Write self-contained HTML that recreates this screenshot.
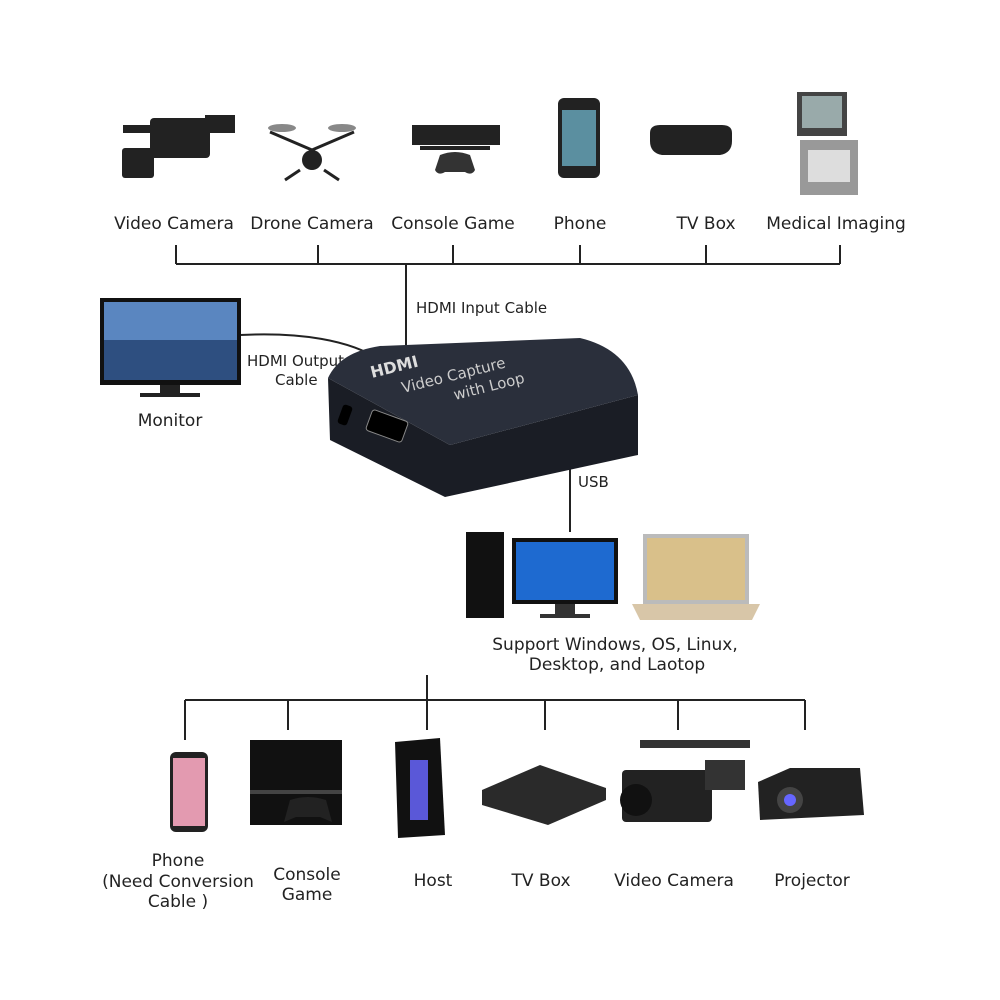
<!DOCTYPE html>
<html><head><meta charset="utf-8"><style>
html,body{margin:0;padding:0;background:#fff}
svg{display:block}
text{font-family:"DejaVu Sans","Liberation Sans",sans-serif;fill:#222}
</style></head><body>
<svg width="1000" height="1000" viewBox="0 0 1000 1000" xmlns="http://www.w3.org/2000/svg">
<g stroke="#222" stroke-width="2" fill="none">
<path d="M176 264H840M176 245V264M318 245V264M453 245V264M580 245V264M706 245V264M840 245V264M406 264V345"/>
<path d="M240 335C300 332 350 340 380 360"/>
<path d="M570 455V532"/>
<path d="M185 700H805M185 700V740M288 700V730M427 675V730M545 700V730M678 700V730M805 700V730"/>
</g>
<g font-size="17">
<text x="174" y="229" text-anchor="middle">Video Camera</text>
<text x="312" y="229" text-anchor="middle">Drone Camera</text>
<text x="453" y="229" text-anchor="middle">Console Game</text>
<text x="580" y="229" text-anchor="middle">Phone</text>
<text x="706" y="229" text-anchor="middle">TV Box</text>
<text x="836" y="229" text-anchor="middle">Medical Imaging</text>
<text x="416" y="313" font-size="15">HDMI Input Cable</text>
<text x="247" y="366" font-size="15">HDMI Output</text>
<text x="275" y="385" font-size="15">Cable</text>
<text x="170" y="426" text-anchor="middle">Monitor</text>
<text x="578" y="487" font-size="15">USB</text>
<text x="615" y="650" text-anchor="middle">Support Windows, OS, Linux,</text>
<text x="617" y="670" text-anchor="middle">Desktop, and Laotop</text>
<text x="178" y="866" text-anchor="middle">Phone</text>
<text x="178" y="887" text-anchor="middle">(Need Conversion</text>
<text x="178" y="907" text-anchor="middle">Cable )</text>
<text x="307" y="880" text-anchor="middle">Console</text>
<text x="307" y="900" text-anchor="middle">Game</text>
<text x="433" y="886" text-anchor="middle">Host</text>
<text x="541" y="886" text-anchor="middle">TV Box</text>
<text x="674" y="886" text-anchor="middle">Video Camera</text>
<text x="812" y="886" text-anchor="middle">Projector</text>
</g>
<!-- top icons -->
<g fill="#222">
<rect x="123" y="125" width="30" height="8"/><rect x="150" y="118" width="60" height="40" rx="4"/><rect x="122" y="148" width="32" height="30" rx="3"/><rect x="205" y="115" width="30" height="18"/>
<circle cx="312" cy="160" r="10"/><path d="M270 132L312 150L354 132" stroke="#222" stroke-width="3" fill="none"/><path d="M300 170L285 180M324 170L339 180" stroke="#222" stroke-width="3"/>
<ellipse cx="282" cy="128" rx="14" ry="4" fill="#888"/><ellipse cx="342" cy="128" rx="14" ry="4" fill="#888"/>
<path d="M412 125H500V145H412Z"/><rect x="420" y="146" width="70" height="4"/>
<path d="M440 155q15-6 30 0l5 15q-3 6-10 2h-20q-7 4-10-2z" fill="#333"/>
<rect x="558" y="98" width="42" height="80" rx="6"/><rect x="562" y="110" width="34" height="56" fill="#5b8fa0"/>
<path d="M650 133q0-8 10-8h62q10 0 10 8v8q0 12-12 14h-58q-12-2-12-14z"/>
<rect x="797" y="92" width="50" height="44" fill="#444"/><rect x="802" y="96" width="40" height="32" fill="#9aa"/>
<rect x="800" y="140" width="58" height="55" fill="#999"/><rect x="808" y="150" width="42" height="32" fill="#ddd"/>
</g>
<!-- monitor -->
<rect x="100" y="298" width="141" height="87" fill="#111"/>
<rect x="104" y="302" width="133" height="78" fill="#5a86c0"/>
<rect x="104" y="340" width="133" height="40" fill="#2e4f80"/>
<rect x="160" y="385" width="20" height="8" fill="#222"/><rect x="140" y="393" width="60" height="4" fill="#222"/>
<!-- capture device -->
<path d="M328 378L330 440L445 497L638 455L638 395L450 445Z" fill="#1a1d25"/>
<path d="M328 378Q340 352 380 346L580 338Q630 350 638 395L450 445Z" fill="#2a2f3b"/>
<text x="0" y="0" transform="translate(372 378) rotate(-14)" font-size="16" font-weight="bold" style="fill:#ddd">HDMI</text>
<text x="0" y="0" transform="translate(403 393) rotate(-14)" font-size="15" style="fill:#ccc">Video  Capture</text>
<text x="0" y="0" transform="translate(455 400) rotate(-14)" font-size="15" style="fill:#ccc">with Loop</text>
<rect x="368" y="415" width="38" height="22" rx="3" fill="#000" stroke="#888" transform="rotate(20 387 426)"/>
<rect x="340" y="405" width="10" height="20" rx="3" fill="#000" transform="rotate(20 345 415)"/>
<!-- computers -->
<rect x="466" y="532" width="38" height="86" fill="#111"/>
<rect x="512" y="538" width="106" height="66" fill="#111"/><rect x="516" y="542" width="98" height="58" fill="#1e6ad0"/>
<rect x="555" y="604" width="20" height="10" fill="#333"/><rect x="540" y="614" width="50" height="4" fill="#333"/>
<rect x="643" y="534" width="106" height="70" fill="#bbb"/><rect x="647" y="538" width="98" height="62" fill="#d9c08a"/>
<path d="M632 604H760L752 620H640Z" fill="#d8c6a8"/>
<!-- bottom icons -->
<rect x="170" y="752" width="38" height="80" rx="6" fill="#222"/><rect x="173" y="758" width="32" height="68" fill="#e39ab0"/>
<rect x="250" y="740" width="92" height="85" fill="#111"/><rect x="250" y="790" width="92" height="4" fill="#444"/>
<path d="M290 800q18-6 36 0l6 22-12-5h-24l-12 5z" fill="#222"/>
<path d="M395 742L440 738L445 835L398 838Z" fill="#111"/><rect x="410" y="760" width="18" height="60" fill="#5a58d8"/>
<path d="M482 790L540 765L606 788L606 800L548 825L482 805Z" fill="#2a2a2a"/>
<rect x="622" y="770" width="90" height="52" rx="4" fill="#222"/><rect x="705" y="760" width="40" height="30" fill="#333"/><rect x="640" y="740" width="110" height="8" fill="#333"/>
<circle cx="636" cy="800" r="16" fill="#111"/>
<path d="M758 782L790 768H860L864 815L760 820Z" fill="#222"/><circle cx="790" cy="800" r="13" fill="#444"/><circle cx="790" cy="800" r="6" fill="#66f"/>
</svg>
</body></html>
